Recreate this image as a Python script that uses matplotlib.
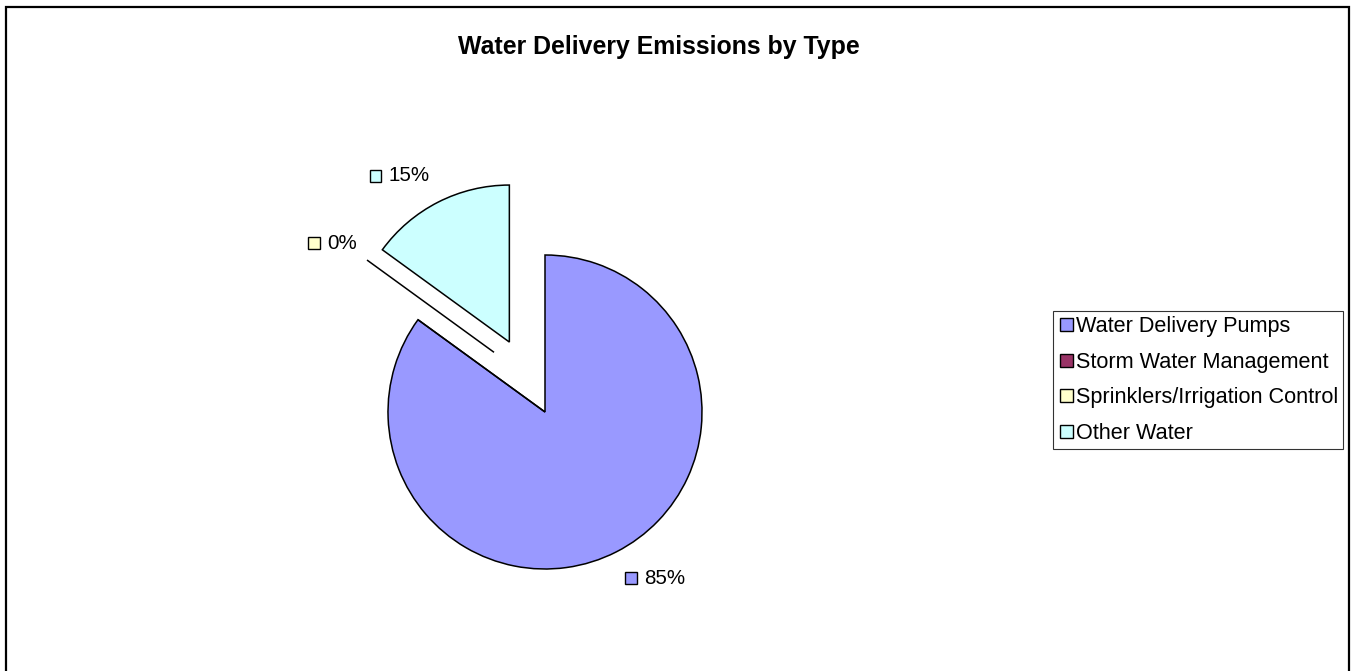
import math
import matplotlib
matplotlib.use("Agg")
import matplotlib.pyplot as plt
from matplotlib.patches import Rectangle
from matplotlib.legend_handler import HandlerPatch
from matplotlib.offsetbox import AnnotationBbox, HPacker, DrawingArea, TextArea

plt.rcParams['font.family'] = ['Liberation Sans', 'DejaVu Sans']

# data
categories = ["Water Delivery Pumps", "Storm Water Management",
              "Sprinklers/Irrigation Control", "Other Water"]
values = [85, 0, 0, 15]
colors = ["#9999FF", "#993366", "#FFFFCC", "#CCFFFF"]
explode = [0, 0, 0.5, 0.5]
show_label = [True, False, True, True]

W, H = 1353, 671
fig = plt.figure(figsize=(W / 100, H / 100), dpi=100)
ax = fig.add_axes([0, 0, 1, 1])

# pie geometry in pixel units (y up)
cx, cy, r = 545, H - 412, 157

wedges, _ = ax.pie(values, colors=colors, startangle=90, counterclock=False,
                   radius=r, center=(cx, cy), frame=True,
                   wedgeprops=dict(edgecolor="black", linewidth=1.1))

def mid_angle(w):
    return 0.5 * (w.theta1 + w.theta2)

# explode the slices; zero slices are nudged between their edge and the next slice
dirs = []
for i, w in enumerate(wedges):
    if values[i] == 0 and i + 1 < len(wedges):
        a = 0.5 * (w.theta1 + mid_angle(wedges[i + 1]))
    else:
        a = mid_angle(w)
    if explode[i]:
        w.set_center((cx + explode[i] * r * math.cos(math.radians(a)),
                      cy + explode[i] * r * math.sin(math.radians(a))))
    dirs.append(w.theta1 if values[i] == 0 else mid_angle(w))

# percent labels with colour keys
total = sum(values)
for i, w in enumerate(wedges):
    if not show_label[i]:
        continue
    a = math.radians(dirs[i])
    k = 1.12 if values[i] else 1.08
    px = w.center[0] + k * r * math.cos(a)
    py = w.center[1] + k * r * math.sin(a)
    da = DrawingArea(8.6, 8.6, 0, 0)
    da.add_artist(Rectangle((0, 0), 8.6, 8.6, facecolor=colors[i],
                            edgecolor="black", linewidth=1))
    ta = TextArea(f"{values[i] / total:.0%}", textprops=dict(size=14.8))
    box = HPacker(children=[da, ta], align="center", pad=0, sep=5)
    bx = 0 if math.cos(a) > 0 else 1
    by = 1 if math.sin(a) < 0 else 0
    ax.add_artist(AnnotationBbox(box, (px, py), xycoords="data",
                                 box_alignment=(bx, by), frameon=False, pad=0))

ax.set_xlim(0, W)
ax.set_ylim(0, H)
ax.set_aspect("equal")
ax.set_axis_off()

fig.text(659 / W, 1 - 47 / H, "Water Delivery Emissions by Type",
         ha="center", va="center", fontsize=17.9, fontweight="bold")


# square legend key sitting at the right end of the handle area
def square_key(legend, orig_handle, xdescent, ydescent, width, height, fontsize):
    return Rectangle((-xdescent + width - height, -ydescent), height, height)


leg = fig.legend(wedges, categories, loc="upper left",
                 bbox_to_anchor=(1053 / W, 1 - 311 / H), borderaxespad=0,
                 fontsize=15.6, frameon=True, fancybox=False, shadow=False,
                 handlelength=0.69, handleheight=0.55, handletextpad=0.1,
                 labelspacing=0.67, borderpad=0.25,
                 handler_map={w: HandlerPatch(patch_func=square_key) for w in wedges})
leg.get_frame().set_edgecolor("black")
leg.get_frame().set_linewidth(0.8)
for h in leg.legend_handles:
    h.set_linewidth(1)

# outer chart border
fig.patches.append(Rectangle((6 / W, -0.02), (1349 - 6) / W, 1.02 - 7 / H,
                             transform=fig.transFigure, fill=False,
                             edgecolor="black", linewidth=1.6))

fig.savefig("out.png", dpi=100)
